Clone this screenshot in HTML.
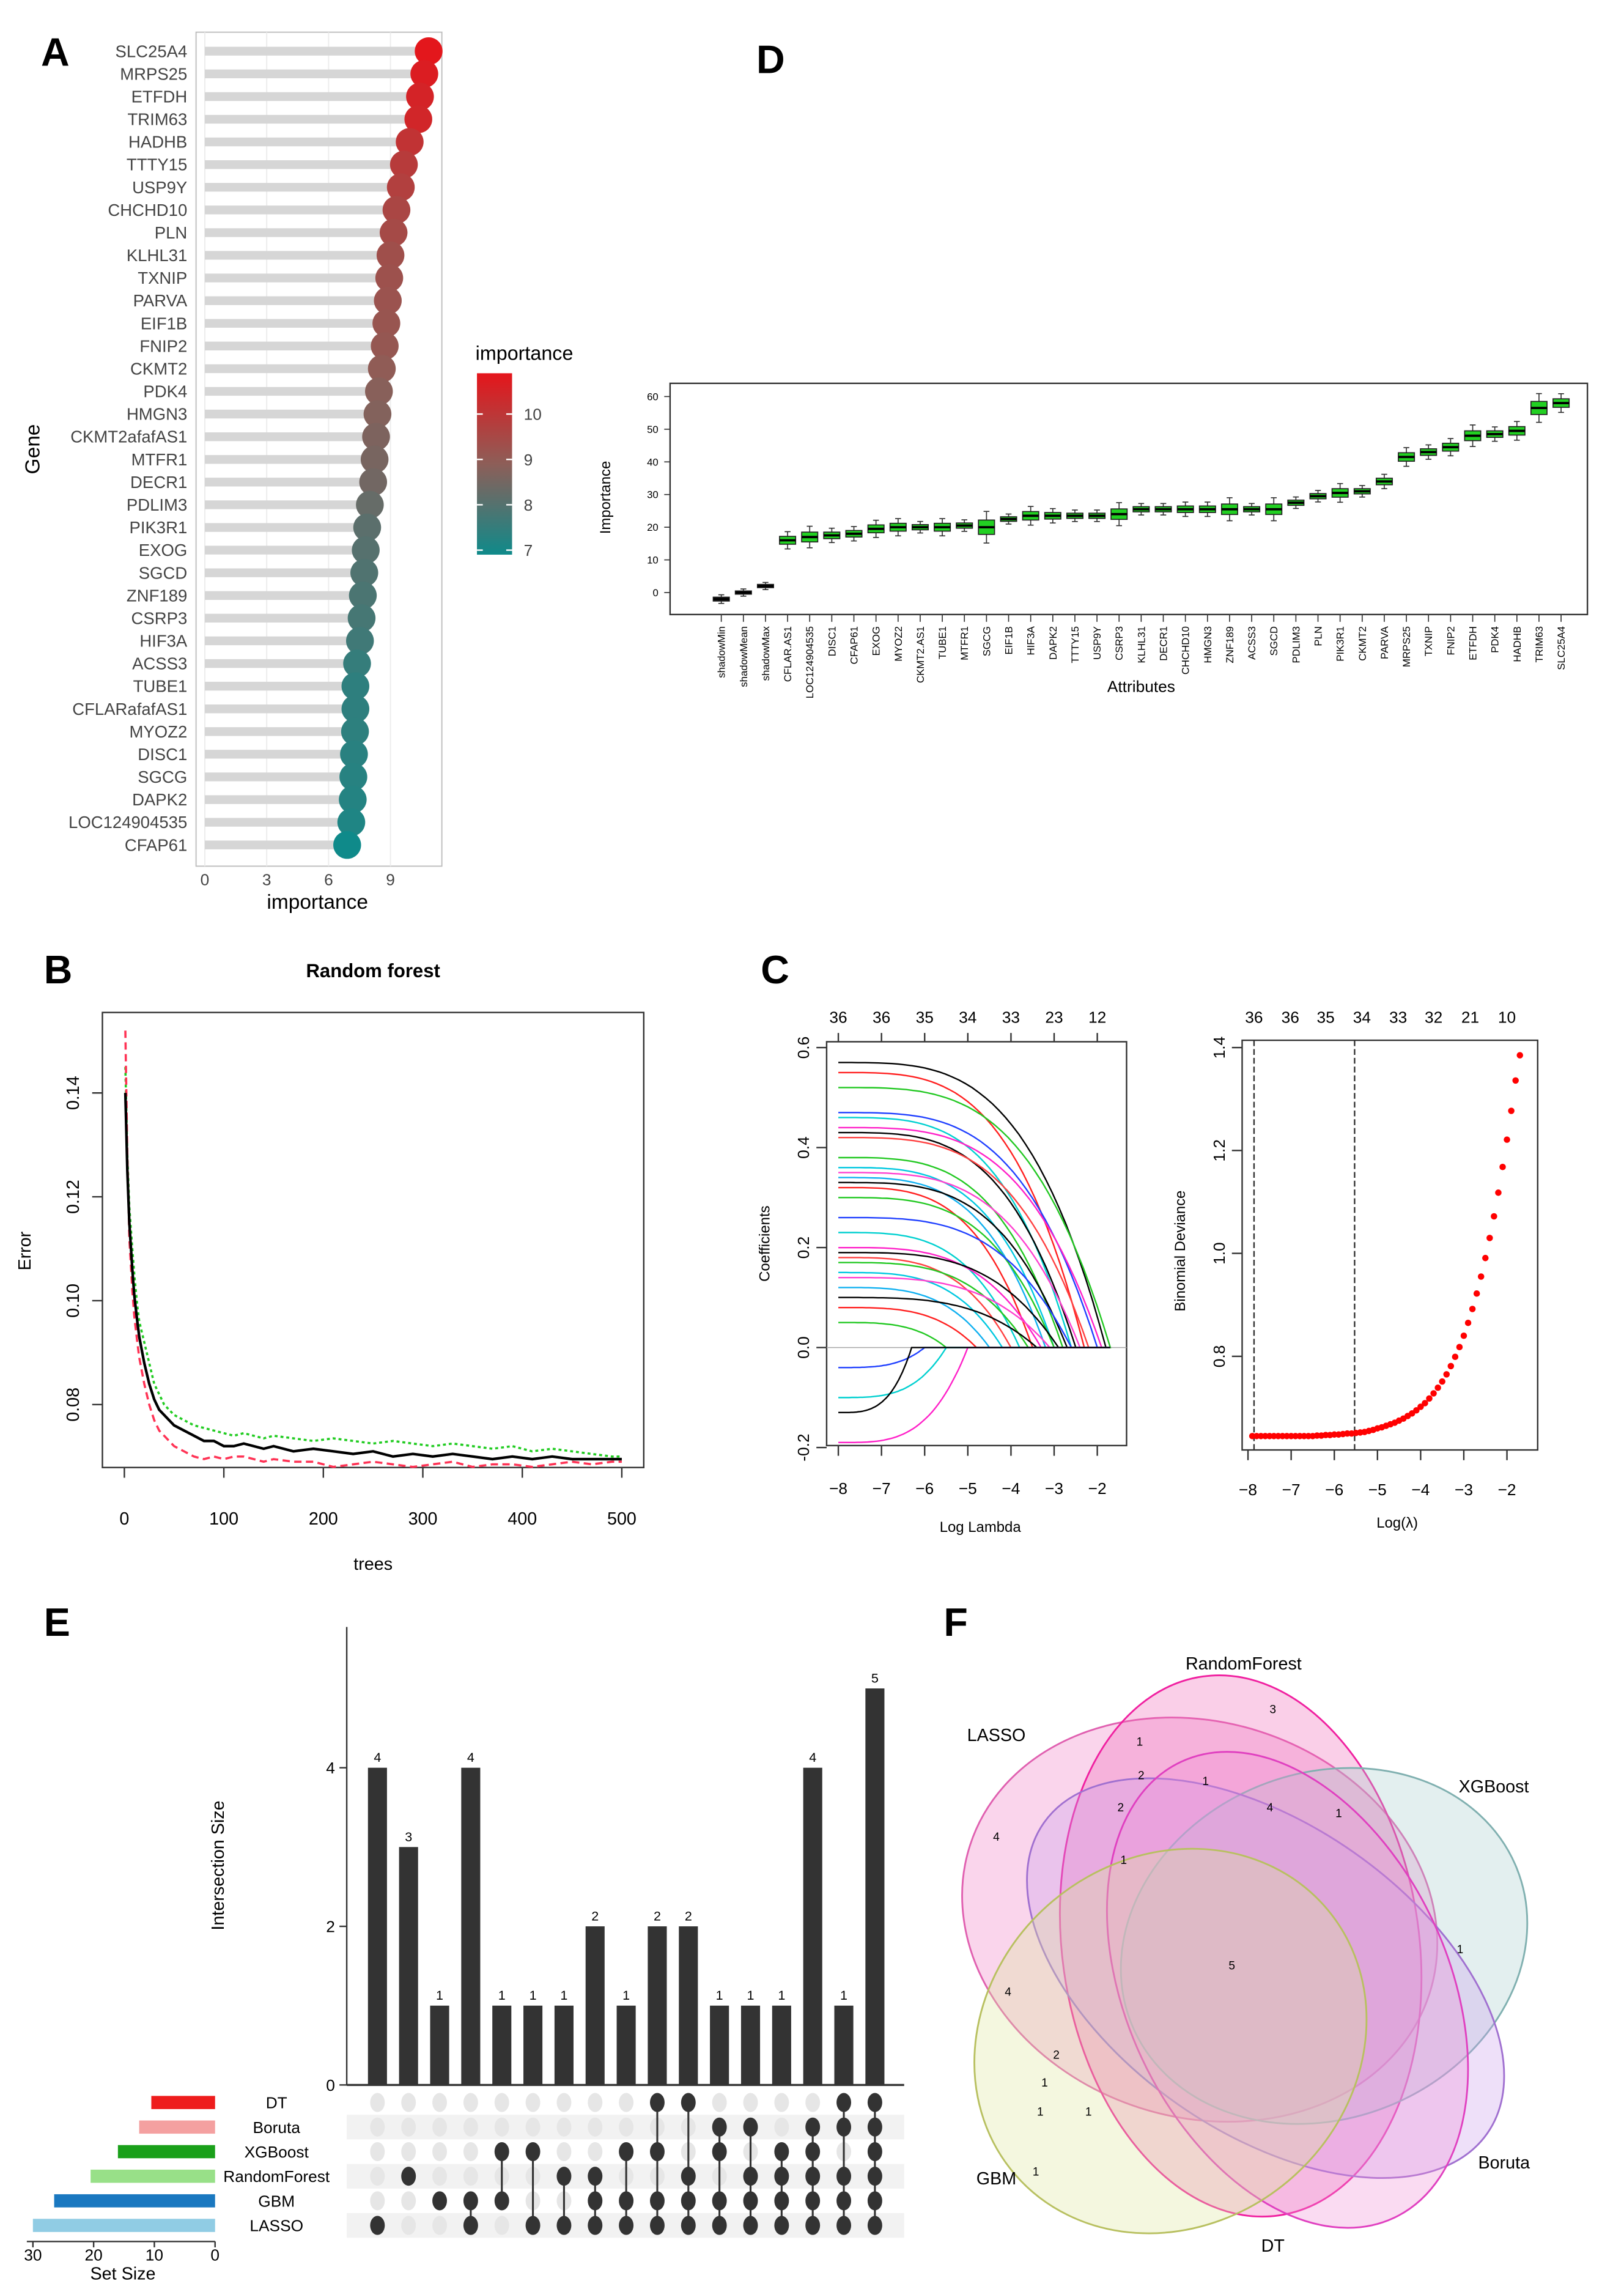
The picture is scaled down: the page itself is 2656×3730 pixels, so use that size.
<!DOCTYPE html>
<html><head><meta charset="utf-8"><style>
html,body{margin:0;padding:0;background:#fff}
svg{display:block;font-family:"Liberation Sans",sans-serif}
</style></head><body>
<svg id="fig" xmlns="http://www.w3.org/2000/svg" width="2656" height="3730" viewBox="0 0 1110 1559" preserveAspectRatio="none">
<rect width="1110" height="1559" fill="#fff"/>
<text x="28" y="45" font-size="27" font-weight="bold">A</text>
<text x="517" y="50" font-size="27" font-weight="bold">D</text>
<text x="30" y="672" font-size="27" font-weight="bold">B</text>
<text x="520" y="672" font-size="27" font-weight="bold">C</text>
<text x="30" y="1118" font-size="27" font-weight="bold">E</text>
<text x="645" y="1118" font-size="27" font-weight="bold">F</text>
<g id="pA"></g>
<g id="pD"></g>
<g id="pB"></g>
<g id="pC1"></g>
<g id="pC2"></g>
<g id="pE"></g>
<g id="pF"></g>
</svg>
<script>
const NS='http://www.w3.org/2000/svg';
function mk(tag,attrs,parent,txt){const e=document.createElementNS(NS,tag);for(const k in attrs)e.setAttribute(k,attrs[k]);if(txt!==undefined)e.textContent=txt;parent.appendChild(e);return e;}

const genes=['SLC25A4','MRPS25','ETFDH','TRIM63','HADHB','TTTY15','USP9Y','CHCHD10','PLN','KLHL31','TXNIP','PARVA','EIF1B','FNIP2','CKMT2','PDK4','HMGN3','CKMT2afafAS1','MTFR1','DECR1','PDLIM3','PIK3R1','EXOG','SGCD','ZNF189','CSRP3','HIF3A','ACSS3','TUBE1','CFLARafafAS1','MYOZ2','DISC1','SGCG','DAPK2','LOC124904535','CFAP61'];
const geneImportance=[10.85,10.64,10.43,10.35,9.93,9.65,9.5,9.29,9.15,9.0,8.94,8.87,8.8,8.72,8.58,8.44,8.37,8.3,8.23,8.16,8.0,7.87,7.8,7.73,7.66,7.6,7.52,7.38,7.3,7.3,7.28,7.23,7.2,7.17,7.1,6.9];
const aTicks=[0,3,6,9];
const legendTicks=[10,9,8,7];

const attrs=['shadowMin','shadowMean','shadowMax','CFLAR.AS1','LOC124904535','DISC1','CFAP61','EXOG','MYOZ2','CKMT2.AS1','TUBE1','MTFR1','SGCG','EIF1B','HIF3A','DAPK2','TTTY15','USP9Y','CSRP3','KLHL31','DECR1','CHCHD10','HMGN3','ZNF189','ACSS3','SGCD','PDLIM3','PLN','PIK3R1','CKMT2','PARVA','MRPS25','TXNIP','FNIP2','ETFDH','PDK4','HADHB','TRIM63','SLC25A4'];
const attrMedian=[-2,0,2,16,17,17.5,18,19.5,20,20,20,20.5,20,22.5,23.5,23.5,23.5,23.5,24,25.5,25.5,25.5,25.5,25.5,25.5,25.5,27.5,29.5,30.5,31,34,41.5,43,44.5,48,48.5,49.5,56.5,58];
const attrSpread=[0.6,0.5,0.5,1.2,1.5,1,1,1.2,1.2,0.8,1.2,0.8,2.2,0.7,1.3,1,0.8,0.8,1.6,0.8,0.8,1,1,1.6,0.8,1.6,0.8,0.8,1.3,0.8,1,1.3,1,1.2,1.5,1,1.3,2,1.3];
const dTicks=[0,10,20,30,40,50,60];

const trees=[1,3,5,8,10,13,15,20,25,30,35,40,45,50,60,70,80,90,100,110,120,130,140,150,170,190,210,230,250,270,290,310,330,350,370,390,410,430,450,470,490,500];
const oobErr=[0.140,0.125,0.115,0.106,0.101,0.096,0.093,0.088,0.084,0.081,0.079,0.078,0.077,0.076,0.075,0.074,0.073,0.073,0.072,0.072,0.0725,0.072,0.0715,0.072,0.071,0.0715,0.071,0.0705,0.071,0.070,0.0705,0.070,0.0705,0.070,0.0695,0.070,0.0695,0.070,0.0695,0.0695,0.0695,0.0695];
const class1Err=[0.152,0.128,0.112,0.102,0.097,0.092,0.089,0.084,0.080,0.077,0.075,0.074,0.073,0.072,0.071,0.070,0.0695,0.070,0.0695,0.070,0.070,0.0695,0.069,0.0695,0.069,0.069,0.068,0.0685,0.069,0.0685,0.068,0.0685,0.069,0.068,0.0685,0.0685,0.068,0.0685,0.069,0.0685,0.069,0.069];
const class2Err=[0.145,0.128,0.118,0.110,0.105,0.099,0.096,0.092,0.088,0.084,0.082,0.080,0.079,0.078,0.077,0.076,0.0755,0.075,0.0745,0.074,0.0745,0.074,0.0735,0.074,0.0735,0.073,0.0735,0.073,0.0725,0.073,0.0725,0.072,0.0725,0.072,0.0715,0.072,0.071,0.0715,0.071,0.0705,0.070,0.070];
const bXTicks=[0,100,200,300,400,500];
const bYTicks=[0.08,0.10,0.12,0.14];

const coefStart=[0.57,0.55,0.52,0.47,0.46,0.44,0.43,0.42,0.38,0.36,0.35,0.34,0.33,0.32,0.30,0.26,0.23,0.20,0.19,0.18,0.17,0.15,0.14,0.12,0.10,0.08,0.05,-0.04,-0.10,-0.19,-0.13];
const coefExit=[-1.8,-2.3,-1.7,-2.0,-2.6,-1.9,-2.5,-2.2,-2.8,-3.0,-2.4,-3.2,-2.7,-3.5,-3.0,-2.6,-3.8,-3.3,-2.9,-4.0,-3.6,-4.2,-3.1,-4.5,-3.4,-4.8,-5.5,-6.0,-5.5,-5.0,-6.3];
const c1TopLabels=['36','36','35','34','33','23','12'];
const c1TopAt=[-8,-7,-6,-5,-4,-3,-2];
const cXTicks=[-8,-7,-6,-5,-4,-3,-2];
const c1YTicks=[-0.2,0.0,0.2,0.4,0.6];
const devStartLambda=-7.9;
const deviance=[0.645,0.645,0.645,0.645,0.645,0.645,0.645,0.645,0.645,0.645,0.645,0.645,0.645,0.645,0.645,0.646,0.646,0.647,0.647,0.648,0.648,0.649,0.650,0.650,0.651,0.652,0.653,0.655,0.657,0.660,0.662,0.665,0.668,0.671,0.675,0.679,0.684,0.689,0.695,0.702,0.709,0.718,0.728,0.739,0.751,0.765,0.781,0.799,0.818,0.840,0.865,0.892,0.922,0.955,0.991,1.030,1.072,1.118,1.168,1.221,1.277,1.336,1.385];
const c2TopLabels=['36','36','35','34','33','32','21','10'];
const c2TopAt=[-7.86,-7.02,-6.2,-5.36,-4.52,-3.7,-2.85,-2.0];
const c2YTicks=[0.8,1.0,1.2,1.4];
const lambdaMin=-7.86, lambda1se=-5.53;

const sets=['DT','Boruta','XGBoost','RandomForest','GBM','LASSO'];
const setSize=[10.5,12.5,16,20.5,26.5,30];
const setColor=['#ee1c1c','#f4a0a0','#1aa01a','#98e088','#1a78c0','#90cce4'];
const interSize=[4,3,1,4,1,1,1,2,1,2,2,1,1,1,4,1,5];
const interSets=[[5],[3],[4],[4,5],[2,4],[2,5],[3,5],[3,4,5],[2,4,5],[0,2,4,5],[0,3,4,5],[1,2,4,5],[1,3,4,5],[2,3,4,5],[1,2,3,4,5],[0,1,3,4,5],[0,1,2,3,4,5]];
const eYTicks=[0,2,4];
const setTicks=[30,20,10,0];

const vennNames=['LASSO','RandomForest','XGBoost','Boruta','DT','GBM'];
const vennCounts=['3','1','2','1','2','4','1','4','1','5','1','4','2','1','1','1','1'];

(function(){
const g=document.getElementById('pA');
const x0=140,ux=14.1,yTop=35,step=15.5;
const X=v=>x0+v*ux, Y=i=>yTop+i*step;
const fr=mk('rect',{x:134,y:22,width:168,height:570,fill:'#fff',stroke:'#bdbdbd','stroke-width':0.8},g);

aTicks.forEach(t=>{
 const l=mk('line',{x1:X(t),x2:X(t),y1:22,y2:592,stroke:'#ececec','stroke-width':0.8},g);
 
 const tk=mk('text',{x:X(t),y:605,'font-size':11,'text-anchor':'middle',fill:'#444'},g,String(t));
 
});
function col(v){
 const stops=[[6.9,[15,138,138]],[8.5,[141,94,88]],[10.9,[229,21,27]]];
 let a=stops[0],b=stops[1];if(v>8.5){a=stops[1];b=stops[2];}
 let t=Math.max(0,Math.min(1,(v-a[0])/(b[0]-a[0])));
 return 'rgb('+a[1].map((c,i)=>Math.round(c+(b[1][i]-c)*t)).join(',')+')';
}
genes.forEach((gn,i)=>{
 const v=geneImportance[i];
 const ln=mk('line',{x1:X(0),x2:X(v),y1:Y(i),y2:Y(i),stroke:'#d6d6d6','stroke-width':6},g);
 
 const c=mk('circle',{cx:X(v),cy:Y(i),r:9.5,fill:col(v)},g);
 
 const tx=mk('text',{x:128,y:Y(i)+4,'font-size':11.5,'text-anchor':'end',fill:'#444'},g,gn);
 
});
const yt=mk('text',{x:27,y:307,'font-size':14,'text-anchor':'middle',transform:'rotate(-90 27 307)'},g,'Gene');

const xt=mk('text',{x:217,y:621,'font-size':14,'text-anchor':'middle'},g,'importance');

const defs=mk('defs',{},g);
const lg=mk('linearGradient',{id:'impgrad',x1:0,y1:0,x2:0,y2:1},defs);
mk('stop',{offset:'0','stop-color':'#e5151b'},lg);mk('stop',{offset:'0.5','stop-color':'#8d5e58'},lg);mk('stop',{offset:'1','stop-color':'#0f8a8a'},lg);
const LY=v=>283+(10-v)*31;
const lt=mk('text',{x:325,y:246,'font-size':13.5},g,'importance');

const lb=mk('rect',{x:326,y:LY(10.9),width:24,height:LY(6.9)-LY(10.9),fill:'url(#impgrad)'},g);

legendTicks.forEach(t=>{
 const tl=mk('text',{x:358,y:LY(t)+4,'font-size':11,fill:'#444'},g,String(t));
 
 mk('line',{x1:326,x2:330,y1:LY(t),y2:LY(t),stroke:'#fff'},g);mk('line',{x1:346,x2:350,y1:LY(t),y2:LY(t),stroke:'#fff'},g);
});
})();

(function(){
const g=document.getElementById('pD');
const left=458,right=1085,top=262,bot=420;
const Y=v=>405-v*2.233;
const n=attrs.length, X=i=>493+i*(1067-493)/(n-1);
const fr=mk('rect',{x:left,y:top,width:right-left,height:bot-top,fill:'none',stroke:'#333','stroke-width':1},g);

dTicks.forEach(t=>{
 mk('line',{x1:left-4,x2:left,y1:Y(t),y2:Y(t),stroke:'#333','stroke-width':0.7},g);
 const tl=mk('text',{x:left-8,y:Y(t)+2.5,'font-size':7,'text-anchor':'end'},g,String(t));
 
});
attrs.forEach((a,i)=>{
 const m=attrMedian[i],s=attrSpread[i],x=X(i),w=5.5;
 const isShadow=i<3;
 const wh=mk('line',{x1:x,x2:x,y1:Y(m+2.2*s),y2:Y(m-2.2*s),stroke:'#333','stroke-width':0.7},g);
 
 mk('line',{x1:x-2,x2:x+2,y1:Y(m+2.2*s),y2:Y(m+2.2*s),stroke:'#333','stroke-width':0.7},g);
 mk('line',{x1:x-2,x2:x+2,y1:Y(m-2.2*s),y2:Y(m-2.2*s),stroke:'#333','stroke-width':0.7},g);
 const bx=mk('rect',{x:x-w,y:Y(m+s),width:2*w,height:Math.max(2,Y(m-s)-Y(m+s)),fill:isShadow?'#222':'#22d022',stroke:'#222','stroke-width':0.7},g);
 
 mk('line',{x1:x-w,x2:x+w,y1:Y(m),y2:Y(m),stroke:'#000','stroke-width':1.6},g);
 mk('line',{x1:x,x2:x,y1:bot,y2:bot+5,stroke:'#333','stroke-width':0.7},g);
 const tl=mk('text',{x:x+2.5,y:bot+8,'font-size':7,'text-anchor':'end',transform:'rotate(-90 '+(x+2.5)+' '+(bot+8)+')'},g,a);
 
});
const yt=mk('text',{x:417,y:340,'font-size':10,'text-anchor':'middle',transform:'rotate(-90 417 340)'},g,'Importance');

const xt=mk('text',{x:780,y:473,'font-size':11,'text-anchor':'middle'},g,'Attributes');

})();

(function(){
const g=document.getElementById('pB');
const X=t=>85+t*0.68, Y=v=>960-(v-0.08)*3550;
const fr=mk('rect',{x:70,y:692,width:370,height:311,fill:'none',stroke:'#333','stroke-width':1},g);

const tt=mk('text',{x:255,y:668,'font-size':13,'font-weight':'bold','text-anchor':'middle'},g,'Random forest');

bXTicks.forEach(t=>{
 mk('line',{x1:X(t),x2:X(t),y1:1003,y2:1010,stroke:'#333'},g);
 const tl=mk('text',{x:X(t),y:1042,'font-size':12,'text-anchor':'middle'},g,String(t));
 
});
bYTicks.forEach(t=>{
 mk('line',{x1:63,x2:70,y1:Y(t),y2:Y(t),stroke:'#333'},g);
 const tl=mk('text',{x:54,y:Y(t),'font-size':12,'text-anchor':'middle',transform:'rotate(-90 54 '+Y(t)+')'},g,t.toFixed(2));
 
});
const line=(arr,c,dash,w)=>mk('path',{d:arr.map((v,i)=>(i?'L':'M')+X(trees[i])+' '+Y(v)).join(''),fill:'none',stroke:c,'stroke-width':w,'stroke-dasharray':dash},g);
const g2=line(class2Err,'#22cc22','2 2',1.5);
const r=line(class1Err,'#ff3355','5 3',1.5);
const b=line(oobErr,'#000','none',1.8);
const yt=mk('text',{x:21,y:855,'font-size':12,'text-anchor':'middle',transform:'rotate(-90 21 855)'},g,'Error');

const xt=mk('text',{x:255,y:1073,'font-size':12,'text-anchor':'middle'},g,'trees');

})();

(function(){
const g=document.getElementById('pC1');
const X=l=>573+(l+8)*29.5, Y=v=>921-v*341.7;
const fr=mk('rect',{x:565,y:712,width:205,height:276,fill:'none',stroke:'#333','stroke-width':1},g);

cXTicks.forEach(t=>{
 mk('line',{x1:X(t),x2:X(t),y1:988,y2:995,stroke:'#333'},g);
 const tl=mk('text',{x:X(t),y:1021,'font-size':11,'text-anchor':'middle'},g,String(t).replace('-','−'));
 
});
c1TopLabels.forEach((s,i)=>{
 mk('line',{x1:X(c1TopAt[i]),x2:X(c1TopAt[i]),y1:712,y2:706,stroke:'#333'},g);
 const tl=mk('text',{x:X(c1TopAt[i]),y:699,'font-size':11,'text-anchor':'middle'},g,s);
 
});
c1YTicks.forEach(t=>{
 mk('line',{x1:558,x2:565,y1:Y(t),y2:Y(t),stroke:'#333'},g);
 const tl=mk('text',{x:553,y:Y(t),'font-size':11,'text-anchor':'middle',transform:'rotate(-90 553 '+Y(t)+')'},g,t.toFixed(1));
 
});
mk('line',{x1:565,x2:770,y1:Y(0),y2:Y(0),stroke:'#aaa','stroke-width':0.7},g);
const cols=['#000','#ff2020','#22c822','#2040ff','#00d0d0','#ff20c8','#000','#ff4040','#22c822','#00c8e0','#ff40d0','#10b0f0'];
coefStart.forEach((c0,i)=>{
 const ex=coefExit[i];let d='';
 for(let k=0;k<=40;k++){const l=-8+(ex+8)*k/40;const s=k/40;const v=c0*(1-Math.pow(s,3.5));d+=(k?'L':'M')+X(l).toFixed(1)+' '+Y(v).toFixed(1);}
 d+='L'+X(-1.7)+' '+Y(0);
 const p=mk('path',{d:d,fill:'none',stroke:cols[i%cols.length],'stroke-width':1},g);
 
});
const yt=mk('text',{x:526,y:850,'font-size':10,'text-anchor':'middle',transform:'rotate(-90 526 850)'},g,'Coefficients');

const xt=mk('text',{x:670,y:1047,'font-size':10,'text-anchor':'middle'},g,'Log Lambda');

})();

(function(){
const g=document.getElementById('pC2');
const X=l=>853+(l+8)*29.5, Y=v=>927-(v-0.8)*351.7;
const fr=mk('rect',{x:849,y:711,width:202,height:280,fill:'none',stroke:'#333','stroke-width':1},g);

cXTicks.forEach(t=>{
 mk('line',{x1:X(t),x2:X(t),y1:991,y2:998,stroke:'#333'},g);
 const tl=mk('text',{x:X(t),y:1022,'font-size':11,'text-anchor':'middle'},g,String(t).replace('-','−'));
 
});
c2TopLabels.forEach((s,i)=>{
 const tl=mk('text',{x:X(c2TopAt[i]),y:699,'font-size':11,'text-anchor':'middle'},g,s);
 
});
c2YTicks.forEach(t=>{
 mk('line',{x1:842,x2:849,y1:Y(t),y2:Y(t),stroke:'#333'},g);
 const tl=mk('text',{x:837,y:Y(t),'font-size':11,'text-anchor':'middle',transform:'rotate(-90 837 '+Y(t)+')'},g,t.toFixed(1));
 
});
[lambdaMin,lambda1se].forEach(l=>{
 const v=mk('line',{x1:X(l),x2:X(l),y1:711,y2:991,stroke:'#333','stroke-width':1,'stroke-dasharray':'4 2'},g);
 
});
deviance.forEach((d,i)=>{
 const l=devStartLambda+i*0.1;
 const c=mk('circle',{cx:X(l),cy:Y(d),r:2.2,fill:'#ff0000'},g);
 
});
const yt=mk('text',{x:810,y:855,'font-size':10,'text-anchor':'middle',transform:'rotate(-90 810 855)'},g,'Binomial Deviance');

const xt=mk('text',{x:955,y:1044,'font-size':10,'text-anchor':'middle'},g,'Log(λ)');

})();

(function(){
const g=document.getElementById('pE');
const base=1425,uy=54.2, X=i=>258+i*21.25, RY=r=>1437+r*16.8;
mk('line',{x1:237,x2:237,y1:1112,y2:base,stroke:'#333','stroke-width':1},g);
mk('line',{x1:237,x2:618,y1:base,y2:base,stroke:'#333','stroke-width':1.4},g);
eYTicks.forEach(t=>{
 mk('line',{x1:232,x2:237,y1:base-t*uy,y2:base-t*uy,stroke:'#333'},g);
 const tl=mk('text',{x:229,y:base-t*uy+4,'font-size':11,'text-anchor':'end'},g,String(t));
 
});
const yt=mk('text',{x:153,y:1275,'font-size':12,'text-anchor':'middle',transform:'rotate(-90 153 1275)'},g,'Intersection Size');

sets.forEach((s,r)=>{
 if(r%2===1){const st=mk('rect',{x:237,y:RY(r)-8.4,width:381,height:16.8,fill:'#f2f2f2'},g);}
});
interSize.forEach((v,i)=>{
 const b=mk('rect',{x:X(i)-6.5,y:base-v*uy,width:13,height:v*uy,fill:'#333'},g);
 
 const tl=mk('text',{x:X(i),y:base-v*uy-4,'font-size':9,'text-anchor':'middle'},g,String(v));
 
 sets.forEach((s,r)=>{
  if(!interSets[i].includes(r)){const d=mk('ellipse',{cx:X(i),cy:RY(r),rx:5,ry:6.5,fill:'#e6e6e6'},g);}
 });
 const rs=interSets[i];
 if(rs.length>1){const cl=mk('line',{x1:X(i),x2:X(i),y1:RY(Math.min(...rs)),y2:RY(Math.max(...rs)),stroke:'#333','stroke-width':1.3},g);}
 rs.forEach(r=>{const d=mk('ellipse',{cx:X(i),cy:RY(r),rx:5,ry:6.5,fill:'#333'},g);});
});
const SX=v=>147-v*4.15;
sets.forEach((s,r)=>{
 const b=mk('rect',{x:SX(setSize[r]),y:RY(r)-4.5,width:setSize[r]*4.15,height:9,fill:setColor[r]},g);
 
 const tl=mk('text',{x:189,y:RY(r)+4,'font-size':11,'text-anchor':'middle'},g,s);
 
});
mk('line',{x1:SX(31),x2:147,y1:1532,y2:1532,stroke:'#333'},g);
setTicks.forEach(t=>{
 mk('line',{x1:SX(t),x2:SX(t),y1:1532,y2:1536,stroke:'#333'},g);
 const tl=mk('text',{x:SX(t),y:1545,'font-size':11,'text-anchor':'middle'},g,String(t));
 
});
const xt=mk('text',{x:84,y:1558,'font-size':12,'text-anchor':'middle'},g,'Set Size');

})();

(function(){
const g=document.getElementById('pF');
const shapes=[
 {cx:820,cy:1312,rx:165,ry:135,rot:18,fill:'#f07cc4',stroke:'#e060b0'},
 {cx:848,cy:1330,rx:122,ry:186,rot:-8,fill:'#f06ab8',stroke:'#f020a0'},
 {cx:905,cy:1330,rx:142,ry:118,rot:-22,fill:'#a8cccc',stroke:'#80b0b0'},
 {cx:865,cy:1352,rx:185,ry:105,rot:35,fill:'#c9a0ec',stroke:'#a070d0'},
 {cx:880,cy:1360,rx:110,ry:172,rot:-25,fill:'#f090d8',stroke:'#e040c0'},
 {cx:800,cy:1395,rx:140,ry:125,rot:-40,fill:'#dce59a',stroke:'#b8c060'}];
shapes.forEach((s,i)=>{
 const e=mk('ellipse',{cx:s.cx,cy:s.cy,rx:s.rx,ry:s.ry,transform:'rotate('+s.rot+' '+s.cx+' '+s.cy+')',fill:s.fill,'fill-opacity':0.32,stroke:s.stroke,'stroke-width':1.2},g);
 
});
const namePos=[[681,1190],[850,1141],[1021,1225],[1028,1482],[870,1539],[681,1493]];
vennNames.forEach((n,i)=>{
 const t=mk('text',{x:namePos[i][0],y:namePos[i][1],'font-size':12,'text-anchor':'middle'},g,n);
 
});
const cpos=[[870,1171],[779,1193],[780,1216],[824,1220],[766,1238],[868,1238],[915,1242],[681,1258],[768,1274],[842,1346],[998,1335],[689,1364],[722,1407],[714,1426],[744,1446],[711,1446],[708,1487]];
vennCounts.forEach((c,i)=>{
 const t=mk('text',{x:cpos[i][0],y:cpos[i][1],'font-size':8,'text-anchor':'middle'},g,c);
 
});
})();
</script>
</body></html>
